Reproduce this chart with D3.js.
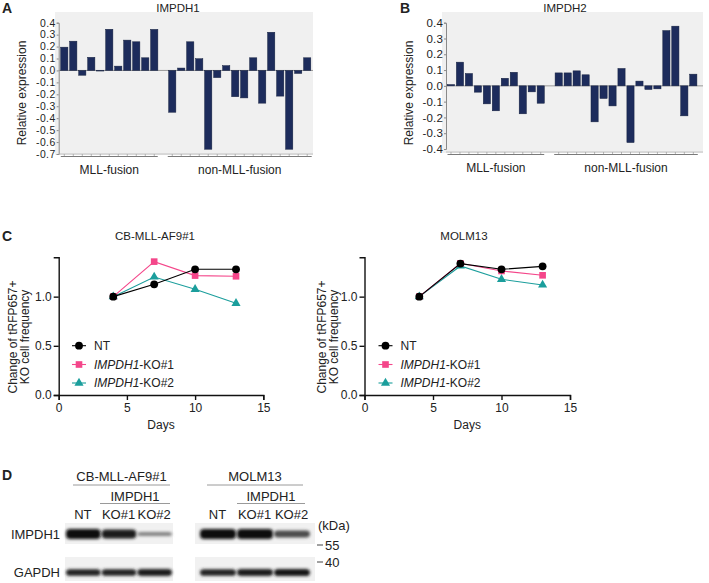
<!DOCTYPE html>
<html>
<head>
<meta charset="utf-8">
<script src="https://cdn.jsdelivr.net/npm/d3@7"></script>
<style>
  body { margin: 0; background: #fff; }
  text { font-family: "Liberation Sans", Arial, sans-serif; fill: #222; }
</style>
</head>
<body>
<svg id="fig" width="709" height="583"></svg>
<script>
// A / B : relative expression per sample line
const impdh1Mll = [0.195, 0.245, -0.04, 0.11, -0.005, 0.345, 0.036, 0.254, 0.24, 0.106, 0.344]
const impdh1NonMll = [-0.35, 0.02, 0.24, 0.098, -0.66, -0.06, 0.04, -0.22, -0.23, 0.106, -0.274, 0.32, -0.215, -0.66, -0.025, 0.106]
const impdh2Mll = [0.008, 0.15, 0.078, -0.04, -0.114, -0.158, 0.048, 0.086, -0.177, -0.038, -0.11]
const impdh2NonMll = [0.082, 0.082, 0.095, 0.07, -0.228, -0.08, -0.127, 0.11, -0.359, 0.03, -0.023, -0.019, 0.35, 0.378, -0.19, 0.074]
const groupNames = ['MLL-fusion', 'non-MLL-fusion']
const ticksA = [0.4, 0.3, 0.2, 0.1, 0, -0.1, -0.2, -0.3, -0.4, -0.5, -0.6, -0.7]
const ticksB = [0.4, 0.3, 0.2, 0.1, 0, -0.1, -0.2, -0.3, -0.4]

// C : change of tRFP657+ KO cell frequency
const days = [4, 7, 10, 13]
const seriesNames = ['NT', 'KO#1', 'KO#2']
const cbNT = [1.0, 1.125, 1.278, 1.278]
const cbKO1 = [1.0, 1.356, 1.214, 1.207]
const cbKO2 = [1.0, 1.2, 1.075, 0.932]
const molmNT = [1.0, 1.336, 1.278, 1.308]
const molmKO1 = [1.0, 1.339, 1.261, 1.217]
const molmKO2 = [1.0, 1.312, 1.176, 1.119]
const dayTicks = [0, 5, 10, 15]
const freqTicks = [0, 0.5, 1.0]

// D : western blot band strength (0..1)
const lanes = ['NT', 'KO#1', 'KO#2']
const cbImpdh1 = [1.0, 0.9, 0.25]
const molmImpdh1 = [1.0, 1.0, 0.6]
const cbGapdh = [0.85, 0.85, 0.9]
const molmGapdh = [0.85, 0.9, 0.95]

const svg = d3.select('#fig')
svg.append('rect').attr('width', 709).attr('height', 583).attr('fill', '#fff')

const fmt1 = (d) => (d === 0 ? '0.0' : d.toFixed(1))

function panelLetter(t, x, y) {
  svg.append('text').attr('x', x).attr('y', y).attr('font-size', 14)
    .attr('font-weight', 'bold').text(t)
}

// bar chart for panels A and B
function barPanel(cfg) {
  const vals = cfg.mll.concat([null], cfg.nonMll)
  const x = d3.scaleBand().domain(d3.range(vals.length)).range(cfg.xr)
  const y = d3.scaleLinear().domain(cfg.domain).range(cfg.yr)
  const g = svg.append('g')

  g.append('rect').attr('x', cfg.bg[0]).attr('y', cfg.bg[1])
    .attr('width', cfg.bg[2] - cfg.bg[0]).attr('height', cfg.bg[3] - cfg.bg[1])
    .attr('fill', '#f0f0f0')

  g.append('line').attr('x1', cfg.axisX).attr('x2', cfg.bg[2])
    .attr('y1', y(0)).attr('y2', y(0)).attr('stroke', '#9a9a9a').attr('stroke-width', 1)

  g.selectAll('rect.bar')
    .data(vals.map((v, i) => ({ v, i })).filter((d) => d.v !== null))
    .enter().append('rect').attr('class', 'bar')
    .attr('x', (d) => x(d.i) + x.bandwidth() * 0.1)
    .attr('width', x.bandwidth() * 0.8)
    .attr('y', (d) => y(Math.max(0, d.v)))
    .attr('height', (d) => Math.abs(y(d.v) - y(0)))
    .attr('fill', '#1d2c5c').attr('stroke', '#14203f').attr('stroke-width', 0.5)

  const ax = g.append('g').attr('transform', 'translate(' + cfg.axisX + ',0)')
    .call(d3.axisLeft(y).tickValues(cfg.ticks).tickFormat(fmt1).tickSize(2).tickPadding(1))
  ax.select('.domain').attr('stroke', '#8a8a8a')
  ax.selectAll('.tick line').attr('stroke', '#8a8a8a')
  ax.selectAll('text').attr('font-size', cfg.tickFont).attr('fill', '#333')
    .attr('letter-spacing', cfg.tickSpacing)
    .style('font-family', '"Liberation Sans", Arial, sans-serif')

  // bottom baseline with sample ticks
  const yb = cfg.bg[3]
  g.append('line').attr('x1', cfg.axisX).attr('x2', cfg.bg[2]).attr('y1', yb - 1).attr('y2', yb - 1)
    .attr('stroke', '#b5b5b5').attr('stroke-width', 0.8)
  g.selectAll('line.stick')
    .data(vals.map((v, i) => ({ v, i })).filter((d) => d.v !== null))
    .enter().append('line').attr('class', 'stick')
    .attr('x1', (d) => x(d.i) + x.bandwidth() / 2).attr('x2', (d) => x(d.i) + x.bandwidth() / 2)
    .attr('y1', yb - 1).attr('y2', yb + 1).attr('stroke', '#999').attr('stroke-width', 0.7)

  const spans = [
    [x(0) + 1, x(cfg.mll.length - 1) + x.step() - 1],
    [x(cfg.mll.length + 1), x(vals.length - 1) + x.step()]
  ]
  spans.forEach((s, i) => {
    g.append('line').attr('x1', s[0]).attr('x2', s[1]).attr('y1', yb + 1.5).attr('y2', yb + 1.5)
      .attr('stroke', '#7a7a7a').attr('stroke-width', 1)
    g.append('text').attr('x', (s[0] + s[1]) / 2).attr('y', yb + 19)
      .attr('text-anchor', 'middle').attr('font-size', 12).text(groupNames[i])
  })

  g.append('text').attr('x', cfg.titleX).attr('y', 12).attr('text-anchor', 'middle')
    .attr('font-size', 11.5).text(cfg.title)
  g.append('text').attr('transform', 'translate(' + cfg.labelX + ',93) rotate(-90)')
    .attr('text-anchor', 'middle').attr('dominant-baseline', 'central')
    .attr('font-size', 12).text('Relative expression')
}

barPanel({
  mll: impdh1Mll, nonMll: impdh1NonMll, domain: [-0.7, 0.4], yr: [154, 22.7],
  xr: [59.8, 311.7], bg: [55, 12, 313, 155], axisX: 58.7, ticks: ticksA,
  tickFont: 10.4, tickSpacing: 0.45,
  title: 'IMPDH1', titleX: 178, labelX: 22
})
barPanel({
  mll: impdh2Mll, nonMll: impdh2NonMll, domain: [-0.4, 0.4], yr: [149, 22.7],
  xr: [446.5, 697.8], bg: [442, 12, 703, 153], axisX: 446, ticks: ticksB,
  tickFont: 11.5, tickSpacing: 0.2,
  title: 'IMPDH2', titleX: 565, labelX: 409
})
panelLetter('A', 2, 13)
panelLetter('B', 400, 13)

// panel C line charts
const colors = { 'NT': '#000', 'KO#1': '#f4468a', 'KO#2': '#1b9e9c' }
const symbols = { 'NT': d3.symbolCircle, 'KO#1': d3.symbolSquare, 'KO#2': d3.symbolTriangle }
const symSize = { 'NT': 48, 'KO#1': 44, 'KO#2': 36 }

function linePanel(cfg) {
  const x = d3.scaleLinear().domain([0, 15]).range(cfg.xr)
  const y = d3.scaleLinear().domain([0, 1.4]).range([395, 257.3])
  const g = svg.append('g')

  const xa = g.append('g').attr('transform', 'translate(0,395)')
    .call(d3.axisBottom(x).tickValues(dayTicks).tickSize(5).tickPadding(3))
  const ya = g.append('g').attr('transform', 'translate(' + cfg.xr[0] + ',0)')
    .call(d3.axisLeft(y).tickValues(freqTicks).tickFormat(fmt1).tickSize(5).tickPadding(2))
  ;[xa, ya].forEach((a) => {
    a.selectAll('.domain, .tick line').attr('stroke', '#111').attr('stroke-width', 1.4)
    a.selectAll('text').attr('font-size', 12).attr('fill', '#333')
      .style('font-family', '"Liberation Sans", Arial, sans-serif')
  })

  const line = d3.line().x((d, i) => x(days[i])).y((d) => y(d))
  const order = ['KO#2', 'KO#1', 'NT']
  order.forEach((name) => {
    const vals = cfg.series[name]
    g.append('path').datum(vals).attr('d', line).attr('fill', 'none')
      .attr('stroke', colors[name]).attr('stroke-width', 1.1)
    g.selectAll(null).data(vals).enter().append('path')
      .attr('transform', (d, i) => 'translate(' + x(days[i]) + ',' + y(d) + ')')
      .attr('d', d3.symbol().type(symbols[name]).size(symSize[name]))
      .attr('fill', colors[name])
  })

  g.append('text').attr('x', cfg.titleX).attr('y', 240).attr('text-anchor', 'middle')
    .attr('font-size', 11.5).text(cfg.title)
  g.append('text').attr('x', (cfg.xr[0] + cfg.xr[1]) / 2).attr('y', 429)
    .attr('text-anchor', 'middle').attr('font-size', 12).text('Days')

  const lab = g.append('text').attr('transform', 'translate(' + cfg.labelX + ',337) rotate(-90)')
    .attr('text-anchor', 'middle').attr('font-size', 12)
  lab.append('tspan').attr('x', 0).attr('dy', '0.35em').text('Change of tRFP657+')
  lab.append('tspan').attr('x', 0).attr('dy', '1.0em').text('KO cell frequency')

  // legend
  const rows = [345.7, 364.5, 383]
  seriesNames.forEach((name, i) => {
    const lx = cfg.legendX
    g.append('line').attr('x1', lx - 7).attr('x2', lx + 7).attr('y1', rows[i]).attr('y2', rows[i])
      .attr('stroke', colors[name]).attr('stroke-width', 1.1)
    g.append('path').attr('transform', 'translate(' + lx + ',' + rows[i] + ')')
      .attr('d', d3.symbol().type(symbols[name]).size(symSize[name])).attr('fill', colors[name])
    const t = g.append('text').attr('x', lx + 15).attr('y', rows[i] + 4.3).attr('font-size', 12)
    if (name === 'NT') {
      t.text('NT')
    } else {
      t.append('tspan').attr('font-style', 'italic').text('IMPDH1')
      t.append('tspan').text('-' + name)
    }
  })
}

linePanel({
  xr: [58.7, 263.3], title: 'CB-MLL-AF9#1', titleX: 155, labelX: 13, legendX: 79,
  series: { 'NT': cbNT, 'KO#1': cbKO1, 'KO#2': cbKO2 }
})
linePanel({
  xr: [364.5, 570], title: 'MOLM13', titleX: 464, labelX: 322, legendX: 385.5,
  series: { 'NT': molmNT, 'KO#1': molmKO1, 'KO#2': molmKO2 }
})
panelLetter('C', 2, 241)

// panel D western blot
const defs = svg.append('defs')
defs.append('filter').attr('id', 'blur').attr('x', '-20%').attr('y', '-100%')
  .attr('width', '140%').attr('height', '300%')
  .append('feGaussianBlur').attr('stdDeviation', 1.6)

function blot(cfg) {
  const g = svg.append('g')
  const xl = d3.scaleBand().domain(lanes).range(cfg.lanes)
  const strips = [
    { y0: 523, y1: 544, yc: 534, vals: cfg.impdh1, h: 8 },
    { y0: 557, y1: 581, yc: 572.5, vals: cfg.gapdh, h: 5.5 }
  ]
  strips.forEach((s) => {
    g.append('rect').attr('x', cfg.strip[0]).attr('y', s.y0)
      .attr('width', cfg.strip[1] - cfg.strip[0]).attr('height', s.y1 - s.y0).attr('fill', '#f1f1f1')
    g.selectAll(null).data(s.vals).enter().append('rect')
      .attr('x', (d, i) => xl(lanes[i]) + 1)
      .attr('width', xl.bandwidth() - 1)
      .attr('y', (d) => s.yc - (2 + s.h * d) / 2)
      .attr('height', (d) => 2 + s.h * d)
      .attr('rx', 4)
      .attr('fill', (d) => d3.interpolateRgb('#a8a8a8', '#0d0d0d')(d))
      .attr('filter', 'url(#blur)')
  })

  // header labels
  g.append('text').attr('x', (cfg.head1[0] + cfg.head1[1]) / 2).attr('y', 481)
    .attr('text-anchor', 'middle').attr('font-size', 13).text(cfg.title)
  g.append('line').attr('x1', cfg.head1[0]).attr('x2', cfg.head1[1]).attr('y1', 485).attr('y2', 485)
    .attr('stroke', '#9a9a9a')
  g.append('text').attr('x', (cfg.head2[0] + cfg.head2[1]) / 2).attr('y', 500.5)
    .attr('text-anchor', 'middle').attr('font-size', 13).text('IMPDH1')
  g.append('line').attr('x1', cfg.head2[0]).attr('x2', cfg.head2[1]).attr('y1', 503.5).attr('y2', 503.5)
    .attr('stroke', '#9a9a9a')
  g.selectAll(null).data(lanes).enter().append('text')
    .attr('x', (d) => xl(d) + xl.bandwidth() / 2).attr('y', 518.5)
    .attr('text-anchor', 'middle').attr('font-size', 13).text((d) => d)
}

blot({
  strip: [65, 173], lanes: [65, 172], title: 'CB-MLL-AF9#1', head1: [73, 170], head2: [100, 170],
  impdh1: cbImpdh1, gapdh: cbGapdh
})
blot({
  strip: [195, 315], lanes: [199, 310], title: 'MOLM13', head1: [207, 303], head2: [237, 305],
  impdh1: molmImpdh1, gapdh: molmGapdh
})
panelLetter('D', 2, 480)

svg.append('text').attr('x', 60).attr('y', 538.5).attr('text-anchor', 'end').attr('font-size', 13).text('IMPDH1')
svg.append('text').attr('x', 60).attr('y', 577).attr('text-anchor', 'end').attr('font-size', 13).text('GAPDH')
svg.append('text').attr('x', 318).attr('y', 529.5).attr('font-size', 13).text('(kDa)')
;[[545, '55'], [562, '40']].forEach((m) => {
  svg.append('line').attr('x1', 317).attr('x2', 323).attr('y1', m[0]).attr('y2', m[0]).attr('stroke', '#444')
  svg.append('text').attr('x', 325).attr('y', m[0] + 4.5).attr('font-size', 13).text(m[1])
})
</script>
</body>
</html>
